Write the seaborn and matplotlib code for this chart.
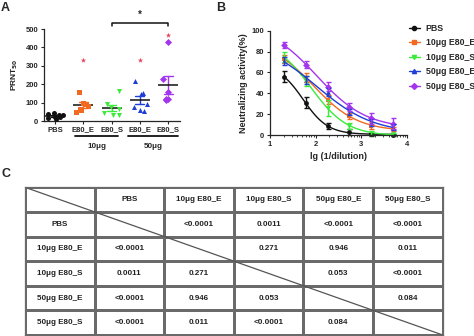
import numpy as np
import pandas as pd
import matplotlib
matplotlib.use("Agg")
import matplotlib.pyplot as plt
from matplotlib.colors import ListedColormap
from matplotlib.lines import Line2D
import seaborn as sns

sns.set_style("ticks")
plt.rcParams["font.family"] = ["Liberation Sans", "DejaVu Sans"]
plt.rcParams["font.weight"] = "bold"
plt.rcParams["axes.labelweight"] = "bold"
np.random.seed(7)

# ---------------- Panel A: PRNT50 per mouse ----------------
a_groups = ["PBS", "10μg E80_E", "10μg E80_S", "50μg E80_E", "50μg E80_S"]
a_ticklabels = ["PBS", "E80_E", "E80_S", "E80_E", "E80_S"]
prnt_pbs = [15, 22, 45, 30, 35, 10, 20, 38]
prnt_10e = [160, 100, 95, 80, 60, 50, 65]
prnt_10s = [165, 90, 75, 65, 45, 35, 30]
prnt_50e = [218, 145, 90, 75, 60, 55, 150]
prnt_50s = [428, 230, 160, 120, 118, 112]
outlier_groups = ["10μg E80_E", "50μg E80_E", "50μg E80_S"]
outlier_values = [330, 330, 465]

colors = ["#111111", "#F26A21", "#3BEA3B", "#1E3ED6", "#A335EE"]
markers = ["o", "s", "v", "^", "D"]

# ---------------- Panel B: neutralization curves ----------------
lg_dilution = [1.3, 1.78, 2.26, 2.74, 3.22, 3.70]
neut_pbs = [56, 31, 8.5, 3, 0.5, 0.3]
neut_10e = [73, 55, 34, 18, 9, 6]
neut_10s = [75, 52, 26, 8.5, 2, 1]
neut_50e = [71, 53, 41, 22, 12, 8]
neut_50s = [86.5, 67.5, 46.5, 27, 16, 11]
err_pbs = [5, 5, 3, 3, 1, 1]
err_10e = [4, 4, 4, 3, 3, 2]
err_10s = [5, 5, 8, 3, 2, 1]
err_50e = [4, 4, 4, 3, 3, 3]
err_50s = [3, 3, 4, 4, 5, 5]

# ---------------- Panel C: pairwise p-values ----------------
pval_rows = [
    ["", "<0.0001", "0.0011", "<0.0001", "<0.0001"],
    ["<0.0001", "", "0.271", "0.946", "0.011"],
    ["0.0011", "0.271", "", "0.053", "<0.0001"],
    ["<0.0001", "0.946", "0.053", "", "0.084"],
    ["<0.0001", "0.011", "<0.0001", "0.084", ""],
]

W, H = 474, 336
fig = plt.figure(figsize=(W / 100, H / 100), dpi=100)


def box(x0, y0, x1, y1):
    return [x0 / W, 1 - y1 / H, (x1 - x0) / W, (y1 - y0) / H]


# ---------- A ----------
axa = fig.add_axes(box(44, 29, 180, 121))
prnt_lists = [prnt_pbs, prnt_10e, prnt_10s, prnt_50e, prnt_50s]
df_a = pd.DataFrame({
    "group": np.repeat(a_groups, [len(v) for v in prnt_lists]),
    "prnt": np.concatenate(prnt_lists),
})
for g, c, m in zip(a_groups, colors, markers):
    sub = df_a[df_a["group"] == g]
    sns.stripplot(data=sub, x="group", y="prnt", order=a_groups, color=c,
                  marker=m, size=3.6, jitter=0.3, linewidth=0, ax=axa)
df_out = pd.DataFrame({"group": outlier_groups, "prnt": outlier_values})
sns.stripplot(data=df_out, x="group", y="prnt", order=a_groups, color="#E8405A",
              marker="*", size=4, jitter=False, linewidth=0, ax=axa)
sns.pointplot(data=df_a, x="group", y="prnt", order=a_groups, hue="group",
              hue_order=a_groups, palette=colors, errorbar="se", capsize=0.32,
              markers="", err_kws={"linewidth": 1.0}, legend=False, ax=axa)
sns.pointplot(data=df_a, x="group", y="prnt", order=a_groups, color="#111111",
              errorbar=None, markers="_", markersize=14, markeredgewidth=1.1,
              linestyles="none", ax=axa)
axa.set_xlim(-0.39, 4.42)
axa.set_ylim(0, 500)
axa.set_yticks([0, 100, 200, 300, 400, 500])
axa.set_xticks(range(5))
axa.set_xticklabels(a_ticklabels, fontsize=5.5, fontweight="bold")
axa.tick_params(axis="y", labelsize=5.5, length=2.5, width=0.8, pad=1.5)
axa.tick_params(axis="x", length=2.5, width=0.8, pad=1.5)
for t in axa.get_yticklabels():
    t.set_fontweight("bold")
axa.set_xlabel("")
axa.set_ylabel("PRNT$_{\\mathbf{50}}$", fontsize=6, fontweight="bold", labelpad=4)
for s in ["top", "right"]:
    axa.spines[s].set_visible(False)
for s in ["left", "bottom"]:
    axa.spines[s].set_linewidth(0.9)

# significance bracket between the two 50 μg groups
axa.plot([2, 2, 4, 4], [515, 535, 535, 515], color="#111111", lw=1.1, clip_on=False)
axa.text(3, 548, "*", ha="center", va="bottom", fontsize=7, fontweight="bold")

# dose group underlines
trans = axa.get_xaxis_transform()
for (x0, x1), lab in zip([(0.71, 2.23), (2.58, 4.35)], ["10μg", "50μg"]):
    axa.plot([x0, x1], [-0.163, -0.163], transform=trans, color="#111111",
             lw=1.3, clip_on=False)
    axa.text((x0 + x1) / 2, -0.275, lab, transform=trans, ha="center",
             va="center", fontsize=5.8, fontweight="bold")


# ---------- B ----------
def fit_4pl(x, y):
    x = np.asarray(x, float)
    y = np.asarray(y, float)
    best = None
    for c in np.linspace(0.6, 3.6, 121):
        for h in np.linspace(0.4, 3.0, 53):
            s = 1.0 / (1.0 + 10 ** ((x - c) * h))
            A = np.column_stack([1 - s, s])
            coef = np.linalg.lstsq(A, y, rcond=None)[0]
            r = np.sum((A @ coef - y) ** 2)
            if best is None or r < best[0]:
                best = (r, coef[0], coef[1], c, h)
    _, bottom, top, c, h = best
    return lambda xx: bottom + (top - bottom) / (1.0 + 10 ** ((xx - c) * h))


axb = fig.add_axes(box(270, 30.7, 407, 135))
b_series = [neut_pbs, neut_10e, neut_10s, neut_50e, neut_50s]
b_errors = [err_pbs, err_10e, err_10s, err_50e, err_50s]
xs = np.linspace(lg_dilution[0], lg_dilution[-1], 120)
handles = []
for g, c, m, yv, ev in zip(a_groups, colors, markers, b_series, b_errors):
    f = fit_4pl(lg_dilution, yv)
    sns.lineplot(x=xs, y=f(xs), color=c, lw=1.0, ax=axb)
    axb.errorbar(lg_dilution, yv, yerr=ev, fmt="none", ecolor=c, elinewidth=1.0,
                 capsize=1.8, capthick=1.0, clip_on=False)
    sns.scatterplot(x=lg_dilution, y=yv, color=c, marker=m, s=12, linewidth=0,
                    ax=axb, clip_on=False)
    handles.append(Line2D([], [], color=c, marker=m, markersize=3, lw=1.0))
axb.set_xlim(1, 4)
axb.set_ylim(0, 100)
axb.set_xticks([1, 2, 3, 4])
axb.set_yticks([0, 20, 40, 60, 80, 100])
minor = [d + np.log10(k) for d in (1, 2, 3) for k in range(2, 10)]
axb.set_xticks(minor, minor=True)
axb.tick_params(axis="both", which="major", labelsize=5.5, length=2.5, width=0.8, pad=1.5)
axb.tick_params(axis="x", which="minor", length=1.5, width=0.6)
for t in axb.get_xticklabels() + axb.get_yticklabels():
    t.set_fontweight("bold")
axb.set_xlabel("lg (1/dilution)", fontsize=6.5, fontweight="bold", labelpad=3)
axb.set_ylabel("Neutralizing activity(%)", fontsize=6.5, fontweight="bold", labelpad=3)
for s in ["top", "right"]:
    axb.spines[s].set_visible(False)
for s in ["left", "bottom"]:
    axb.spines[s].set_linewidth(0.9)

fig.legend(handles, a_groups, loc="upper left",
           bbox_to_anchor=(409 / W, 1 - 24 / H), frameon=False,
           prop={"size": 6.3, "weight": "bold"}, handlelength=1.2,
           handletextpad=0.7, labelspacing=0.62, borderpad=0, borderaxespad=0)

# ---------- C ----------
axc = fig.add_axes(box(25, 187.3, 442.7, 335))
n = len(a_groups) + 1
ann = np.full((n, n), "", dtype=object)
ann[0, 1:] = a_groups
ann[1:, 0] = a_groups
for i, row in enumerate(pval_rows):
    ann[i + 1, 1:] = row
sns.heatmap(np.zeros((n, n)), annot=ann, fmt="", cmap=ListedColormap(["white"]),
            cbar=False, linewidths=0.9, linecolor="#6a6a6a",
            xticklabels=False, yticklabels=False,
            annot_kws={"fontsize": 5.8, "fontweight": "bold", "color": "#222222"},
            ax=axc)
axc.plot([0, n], [0, n], color="#555555", lw=0.9)
for s in axc.spines.values():
    s.set_visible(True)
    s.set_color("#6a6a6a")
    s.set_linewidth(0.9)

# panel letters
fig.text(1 / W, 1 - 2 / H, "A", fontsize=9, fontweight="bold", va="top", ha="left")
fig.text(216 / W, 1 - 2 / H, "B", fontsize=9, fontweight="bold", va="top", ha="left")
fig.text(1 / W, 1 - 168 / H, "C", fontsize=9, fontweight="bold", va="top", ha="left")

fig.savefig("out.png", dpi=100)
